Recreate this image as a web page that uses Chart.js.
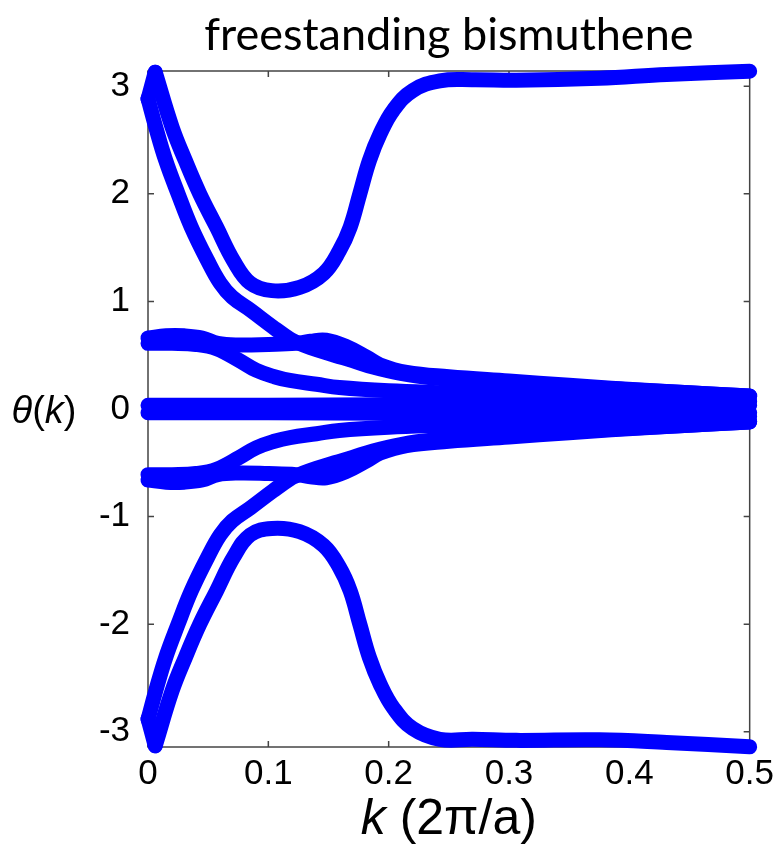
<!DOCTYPE html>
<html>
<head>
<meta charset="utf-8">
<title>freestanding bismuthene</title>
<script src="https://cdn.jsdelivr.net/npm/chart.js@4.4.0/dist/chart.umd.min.js"></script>
<style>
  html, body { margin: 0; padding: 0; background: #fff; }
</style>
</head>
<body>
<canvas id="wilsonChart" width="780" height="846"></canvas>
<script>
// Wilson loop phases theta(k) across half the Brillouin zone
var kTicks = [0, 0.1, 0.2, 0.3, 0.4, 0.5];
var kTickLabels = ["0", "0.1", "0.2", "0.3", "0.4", "0.5"];
var thetaTicks = [-3, -2, -1, 0, 1, 2, 3];
var thetaTickLabels = ["-3", "-2", "-1", "0", "1", "2", "3"];

// short jump at k = 0 where the pair near +/-pi splits
var kWrap = [0, 0.006];
var thetaWrap = [2.88, 3.13];
var thetaWraplow = [-2.88, -3.13];

// outer branch near +pi
var kA = [0.006, 0.02, 0.031, 0.043, 0.057, 0.071, 0.085, 0.103, 0.126, 0.146, 0.159, 0.168, 0.176, 0.184, 0.193, 0.204, 0.22, 0.2425, 0.27, 0.306, 0.375, 0.431, 0.5];
var thetaA = [3.13, 2.62, 2.31, 2.0, 1.69, 1.38, 1.17, 1.10, 1.13, 1.26, 1.47, 1.69, 2.0, 2.31, 2.56, 2.78, 2.96, 3.05, 3.06, 3.055, 3.075, 3.11, 3.14];
var thetaAlow = [-3.13, -2.62, -2.31, -2.0, -1.69, -1.38, -1.17, -1.11, -1.14, -1.27, -1.47, -1.69, -2.0, -2.31, -2.56, -2.78, -2.97, -3.07, -3.07, -3.08, -3.075, -3.10, -3.14];

// inner branch that falls into the central bundle
var kB = [0, 0.0064, 0.0147, 0.025, 0.036, 0.0495, 0.06, 0.07, 0.085, 0.104, 0.118, 0.1235, 0.135, 0.155, 0.17, 0.187, 0.21, 0.235, 0.3, 0.35, 0.4, 0.45, 0.5];
var thetaB = [2.885, 2.62, 2.31, 2.0, 1.69, 1.38, 1.17, 1.04, 0.92, 0.76, 0.65, 0.62, 0.57, 0.50, 0.45, 0.39, 0.33, 0.29, 0.25, 0.21, 0.18, 0.15, 0.12];
var thetaBlow = [-2.885, -2.62, -2.31, -2.0, -1.69, -1.38, -1.17, -1.04, -0.92, -0.76, -0.65, -0.62, -0.57, -0.50, -0.45, -0.39, -0.33, -0.29, -0.25, -0.21, -0.18, -0.15, -0.12];

// flat branch near +/-0.6
var kC = [0, 0.015, 0.03, 0.045, 0.058, 0.075, 0.1, 0.123, 0.135, 0.148, 0.165, 0.182, 0.193, 0.215, 0.25, 0.3, 0.35, 0.42, 0.5];
var thetaC = [0.66, 0.68, 0.68, 0.66, 0.61, 0.595, 0.60, 0.61, 0.63, 0.64, 0.58, 0.48, 0.41, 0.34, 0.30, 0.26, 0.22, 0.17, 0.12];
var thetaClow = [-0.66, -0.68, -0.68, -0.66, -0.61, -0.595, -0.60, -0.61, -0.63, -0.64, -0.58, -0.48, -0.41, -0.34, -0.30, -0.26, -0.22, -0.17, -0.12];

// branch that leaves the 0.6 bundle early
var kD = [0, 0.02, 0.04, 0.057, 0.076, 0.09, 0.105, 0.118, 0.14, 0.159, 0.2, 0.25, 0.3, 0.4, 0.5];
var thetaD = [0.61, 0.61, 0.60, 0.56, 0.45, 0.36, 0.30, 0.265, 0.23, 0.20, 0.17, 0.15, 0.13, 0.10, 0.07];
var thetaDlow = [-0.61, -0.61, -0.60, -0.56, -0.45, -0.36, -0.30, -0.265, -0.23, -0.20, -0.17, -0.15, -0.13, -0.10, -0.07];

// central pair
var kE = [0, 0.1, 0.2, 0.3, 0.4, 0.5];
var thetaE = [0.035, 0.035, 0.04, 0.04, 0.04, 0.035];
var thetaElow = [-0.035, -0.035, -0.04, -0.04, -0.04, -0.035];

var curves = [
  [kWrap, thetaWrap], [kWrap, thetaWraplow],
  [kA, thetaA], [kA, thetaAlow],
  [kB, thetaB], [kB, thetaBlow],
  [kC, thetaC], [kC, thetaClow],
  [kD, thetaD], [kD, thetaDlow],
  [kE, thetaE], [kE, thetaElow]
];

var lineBlue = "#0000ff";

var datasets = curves.map(function (c) {
  return {
    data: c[0].map(function (k, i) { return { x: k, y: c[1][i] }; }),
    borderColor: lineBlue,
    backgroundColor: lineBlue,
    borderWidth: 15,
    borderCapStyle: "round",
    borderJoinStyle: "round",
    pointRadius: 0,
    showLine: true,
    tension: 0.4,
    clip: false
  };
});

// box with inward ticks on all four sides, plus the axis titles
var framePlugin = {
  id: "framePlugin",
  beforeDatasetsDraw: function (chart) {
    var ctx = chart.ctx, a = chart.chartArea;
    var x = chart.scales.x, y = chart.scales.y;
    ctx.save();
    ctx.strokeStyle = "#444";
    ctx.lineWidth = 1.5;
    ctx.strokeRect(a.left, a.top, a.right - a.left, a.bottom - a.top);
    ctx.beginPath();
    kTicks.forEach(function (v) {
      var px = x.getPixelForValue(v);
      ctx.moveTo(px, a.bottom); ctx.lineTo(px, a.bottom - 6);
      ctx.moveTo(px, a.top); ctx.lineTo(px, a.top + 6);
    });
    thetaTicks.forEach(function (v) {
      var py = y.getPixelForValue(v);
      ctx.moveTo(a.left, py); ctx.lineTo(a.left + 6, py);
      ctx.moveTo(a.right, py); ctx.lineTo(a.right - 6, py);
    });
    ctx.stroke();
    ctx.restore();
  },
  afterDraw: function (chart) {
    var ctx = chart.ctx, a = chart.chartArea;
    ctx.save();
    ctx.fillStyle = "#000";
    ctx.textBaseline = "alphabetic";
    drawParts(ctx, [["θ", true], ["(", false], ["k", true], [")", false]], 38, 44, (a.top + a.bottom) / 2 + 14);
    drawParts(ctx, [["k", true], [" (2π/a)", false]], 50, (a.left + a.right) / 2, 834);
    ctx.restore();
  }
};

function drawParts(ctx, parts, size, cx, baseline) {
  var fam = "'Liberation Sans', Arial, sans-serif";
  var widths = parts.map(function (p) {
    ctx.font = (p[1] ? "italic " : "") + size + "px " + fam;
    return ctx.measureText(p[0]).width;
  });
  var total = widths.reduce(function (s, w) { return s + w; }, 0);
  var px = cx - total / 2;
  parts.forEach(function (p, i) {
    ctx.font = (p[1] ? "italic " : "") + size + "px " + fam;
    ctx.fillText(p[0], px, baseline);
    px += widths[i];
  });
}

var tickFont = { family: "'Liberation Sans', Arial, sans-serif", size: 35 };

new Chart(document.getElementById("wilsonChart"), {
  type: "scatter",
  data: { datasets: datasets },
  plugins: [framePlugin],
  options: {
    responsive: false,
    animation: false,
    events: [],
    layout: { padding: { left: 0, right: 29, top: 0, bottom: 0 } },
    plugins: {
      legend: { display: false },
      tooltip: { enabled: false },
      title: {
        display: true,
        fullSize: false,
        text: "freestanding bismuthene",
        color: "#000",
        font: { family: "Lato", size: 45, weight: "normal", lineHeight: 1.2 },
        padding: { top: 8, bottom: 9 }
      }
    },
    scales: {
      x: {
        type: "linear",
        min: 0,
        max: 0.5,
        afterBuildTicks: function (s) { s.ticks = kTicks.map(function (v) { return { value: v }; }); },
        afterFit: function (s) { s.height = 99; },
        grid: { display: false, drawTicks: false },
        border: { display: false },
        ticks: {
          color: "#000",
          font: tickFont,
          padding: 6,
          maxRotation: 0,
          callback: function (v, i) { return kTickLabels[i]; }
        }
      },
      y: {
        type: "linear",
        min: -Math.PI,
        max: Math.PI,
        afterBuildTicks: function (s) { s.ticks = thetaTicks.map(function (v) { return { value: v }; }); },
        afterFit: function (s) { s.width = 148; },
        grid: { display: false, drawTicks: false },
        border: { display: false },
        ticks: {
          color: "#000",
          font: tickFont,
          padding: 18,
          callback: function (v, i) { return thetaTickLabels[i]; }
        }
      }
    }
  }
});
</script>
</body>
</html>
